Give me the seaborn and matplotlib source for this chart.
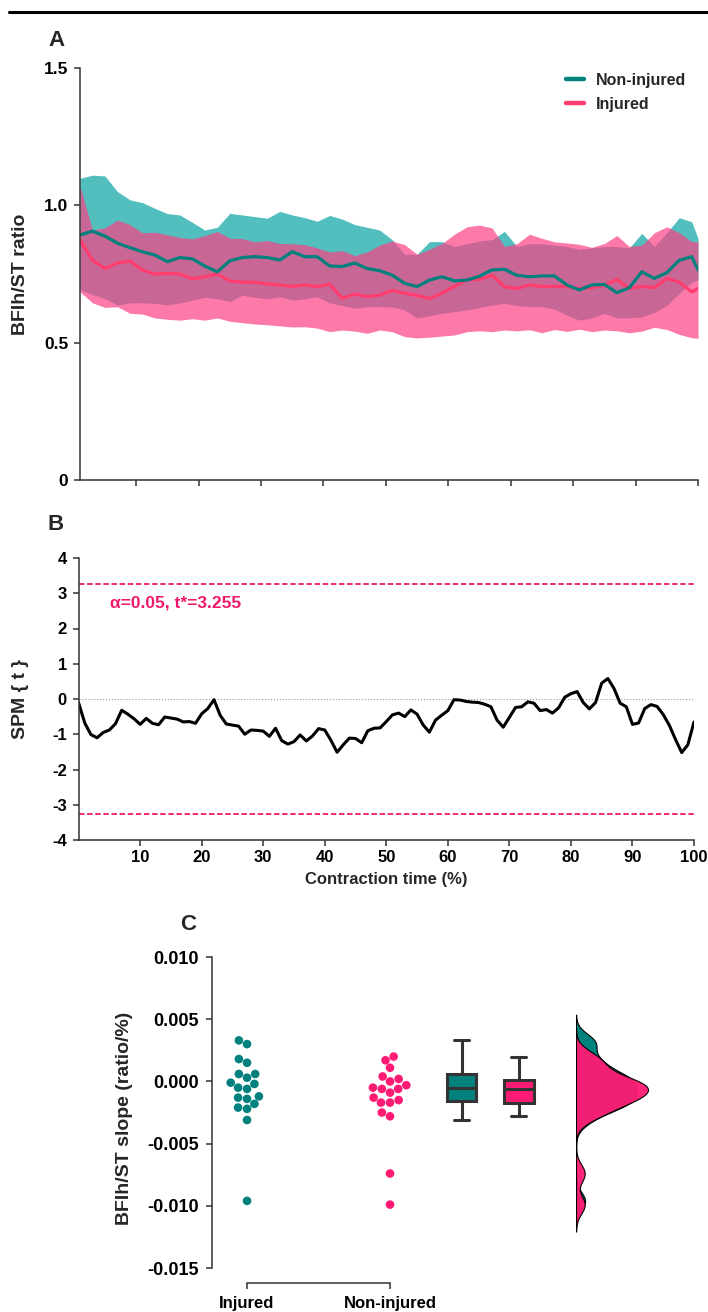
import numpy as np
import pandas as pd
import seaborn as sns
import matplotlib.pyplot as plt
from matplotlib.lines import Line2D

# ---- panel A: BFlh/ST ratio over contraction time (read every 2 %)
time_a = list(range(1, 100, 2)) + [100]
noninj_mean = [0.892, 0.906, 0.888, 0.862, 0.846, 0.831, 0.819, 0.795, 0.810, 0.805,
               0.779, 0.758, 0.798, 0.810, 0.813, 0.810, 0.801, 0.831, 0.813, 0.813,
               0.779, 0.777, 0.790, 0.770, 0.762, 0.746, 0.716, 0.704, 0.728, 0.740,
               0.725, 0.728, 0.742, 0.765, 0.767, 0.745, 0.740, 0.743, 0.743, 0.710,
               0.692, 0.710, 0.712, 0.682, 0.700, 0.758, 0.734, 0.755, 0.800, 0.813,
               0.765]
noninj_upper = [1.098, 1.110, 1.107, 1.050, 1.020, 1.010, 0.989, 0.970, 0.965, 0.938,
                0.910, 0.920, 0.971, 0.965, 0.959, 0.953, 0.978, 0.965, 0.955, 0.942,
                0.963, 0.950, 0.930, 0.920, 0.910, 0.875, 0.822, 0.822, 0.868, 0.868,
                0.850, 0.860, 0.870, 0.875, 0.905, 0.850, 0.860, 0.860, 0.855, 0.850,
                0.840, 0.845, 0.850, 0.850, 0.845, 0.898, 0.850, 0.900, 0.955, 0.940,
                0.880]
noninj_lower = [0.692, 0.675, 0.660, 0.637, 0.645, 0.645, 0.643, 0.637, 0.645, 0.655,
                0.665, 0.660, 0.650, 0.673, 0.665, 0.660, 0.667, 0.655, 0.660, 0.667,
                0.645, 0.635, 0.625, 0.631, 0.631, 0.630, 0.619, 0.590, 0.598, 0.607,
                0.613, 0.619, 0.628, 0.637, 0.643, 0.635, 0.631, 0.631, 0.622, 0.600,
                0.582, 0.590, 0.607, 0.590, 0.590, 0.594, 0.610, 0.635, 0.680, 0.720,
                0.728]
inj_mean = [0.874, 0.800, 0.770, 0.790, 0.797, 0.764, 0.750, 0.752, 0.750, 0.732,
            0.740, 0.750, 0.725, 0.720, 0.720, 0.714, 0.710, 0.705, 0.710, 0.704,
            0.713, 0.661, 0.677, 0.668, 0.673, 0.690, 0.680, 0.672, 0.660, 0.680,
            0.705, 0.730, 0.730, 0.745, 0.704, 0.697, 0.710, 0.704, 0.705, 0.704,
            0.697, 0.700, 0.710, 0.730, 0.697, 0.705, 0.700, 0.734, 0.720, 0.685,
            0.697]
inj_upper = [1.070, 0.910, 0.918, 0.946, 0.930, 0.900, 0.902, 0.893, 0.883, 0.878,
             0.890, 0.905, 0.880, 0.879, 0.867, 0.872, 0.861, 0.860, 0.857, 0.845,
             0.830, 0.835, 0.817, 0.830, 0.855, 0.870, 0.857, 0.822, 0.840, 0.861,
             0.895, 0.922, 0.928, 0.918, 0.850, 0.860, 0.895, 0.880, 0.867, 0.863,
             0.858, 0.847, 0.861, 0.890, 0.850, 0.855, 0.900, 0.922, 0.900, 0.868,
             0.867]
inj_lower = [0.685, 0.645, 0.628, 0.631, 0.607, 0.604, 0.590, 0.585, 0.582, 0.587,
             0.582, 0.590, 0.578, 0.573, 0.568, 0.565, 0.561, 0.557, 0.558, 0.553,
             0.540, 0.546, 0.542, 0.534, 0.546, 0.540, 0.522, 0.517, 0.520, 0.524,
             0.528, 0.540, 0.543, 0.540, 0.546, 0.543, 0.547, 0.536, 0.548, 0.541,
             0.549, 0.540, 0.546, 0.543, 0.536, 0.542, 0.556, 0.548, 0.530, 0.518,
             0.516]
ticks_a = [0, 0.5, 1.0, 1.5]
tick_labels_a = ["0", "0.5", "1.0", "1.5"]

# ---- panel B: SPM{t}
time_b = list(range(0, 101))
spm_t = [-0.11, -0.68, -1.01, -1.10, -0.95, -0.88, -0.70, -0.32, -0.43, -0.56,
         -0.72, -0.55, -0.69, -0.73, -0.51, -0.54, -0.57, -0.65, -0.64, -0.69,
         -0.42, -0.27, -0.02, -0.46, -0.71, -0.74, -0.77, -1.00, -0.88, -0.89,
         -0.91, -1.06, -0.83, -1.18, -1.28, -1.21, -1.02, -1.19, -1.05, -0.84,
         -0.88, -1.17, -1.51, -1.30, -1.11, -1.12, -1.24, -0.90, -0.83, -0.82,
         -0.64, -0.45, -0.40, -0.50, -0.31, -0.43, -0.74, -0.94, -0.60, -0.46,
         -0.33, -0.02, -0.03, -0.07, -0.09, -0.10, -0.15, -0.22, -0.60, -0.80,
         -0.52, -0.24, -0.22, -0.08, -0.12, -0.33, -0.30, -0.40, -0.25, 0.05,
         0.15, 0.21, -0.10, -0.28, -0.10, 0.45, 0.58, 0.30, -0.12, -0.22,
         -0.72, -0.68, -0.27, -0.16, -0.21, -0.44, -0.75, -1.15, -1.52, -1.30,
         -0.65]
t_crit = 3.255
ticks_b = [-4, -3, -2, -1, 0, 1, 2, 3, 4]
tick_labels_b = ["-4", "-3", "-2", "-1", "0", "1", "2", "3", "4"]
xticks_time = [10, 20, 30, 40, 50, 60, 70, 80, 90, 100]

# ---- panel C: slopes per group
injured_slope = [0.0033, 0.0030, 0.0018, 0.0015, 0.0006, 0.0006, 0.0003, -0.0001, -0.0002,
                 -0.0005, -0.0006, -0.0012, -0.0013, -0.0014, -0.0018, -0.0021, -0.0022,
                 -0.0031, -0.0096]
noninjured_slope = [0.0020, 0.0017, 0.0011, 0.0004, 0.0002, 0.0000, -0.0003, -0.0005, -0.0006,
                    -0.0006, -0.0009, -0.0013, -0.0015, -0.0017, -0.0017, -0.0025, -0.0028,
                    -0.0074, -0.0099]
groups = ["Injured", "Non-injured"]
ticks_c = [0.010, 0.005, 0.0, -0.005, -0.010, -0.015]
tick_labels_c = ["0.010", "0.005", "0.000", "-0.005", "-0.010", "-0.015"]

TEAL = "#00817D"
TEAL_BAND = "#52BEBD"
PINK = "#FF1B74"
PINK_LINE = "#FF3D6E"
PINK_BAND = "#FB4186"
CRIT = "#F0186A"
DARK = "#333333"
FONT = ["Liberation Sans", "DejaVu Sans"]

sns.set_style("ticks")
plt.rcParams["font.family"] = FONT
plt.rcParams["font.weight"] = "bold"
plt.rcParams["axes.labelweight"] = "bold"
plt.rcParams["axes.linewidth"] = 1.1
plt.rcParams["axes.edgecolor"] = DARK
plt.rcParams["xtick.color"] = DARK
plt.rcParams["ytick.color"] = DARK
plt.rcParams["xtick.labelcolor"] = "black"
plt.rcParams["ytick.labelcolor"] = "black"

W, H = 708, 1312
fig = plt.figure(figsize=(W / 100, H / 100), dpi=100)


def px_box(left, top, right, bottom):
    return [left / W, 1 - bottom / H, (right - left) / W, (bottom - top) / H]


def style_ticks(ax, size):
    for lab in ax.get_xticklabels() + ax.get_yticklabels():
        lab.set_fontsize(size)
        lab.set_fontweight("bold")


# separator line at the top of the page
fig.add_artist(Line2D([9 / W, 1], [1 - 12 / H, 1 - 12 / H], color="black", lw=2.2))

# ================= A =================
ax_a = fig.add_axes(px_box(80, 68, 698, 480))
ax_a.fill_between(time_a, noninj_lower, noninj_upper, color=TEAL_BAND, lw=0)
ax_a.fill_between(time_a, inj_lower, inj_upper, color=PINK_BAND, alpha=0.7, lw=0)
sns.lineplot(x=time_a, y=inj_mean, color=PINK_LINE, lw=2.3, label="Injured", ax=ax_a)
sns.lineplot(x=time_a, y=noninj_mean, color=TEAL, lw=2.3, label="Non-injured", ax=ax_a)
ax_a.set_xlim(1, 100)
ax_a.set_ylim(0, 1.5)
ax_a.set_xticks(xticks_time)
ax_a.set_xticklabels([])
ax_a.set_yticks(ticks_a)
ax_a.set_yticklabels(tick_labels_a)
ax_a.tick_params(length=4.5, width=1.1, pad=4)
style_ticks(ax_a, 12.5)
ax_a.set_ylabel("BFIh/ST ratio", fontsize=14)
ax_a.yaxis.set_label_coords(-0.083, 0.5)
ax_a.set_xlabel("")
sns.despine(ax=ax_a)
h, l = ax_a.get_legend_handles_labels()
leg = ax_a.legend([h[1], h[0]], [l[1], l[0]], loc="upper left",
                  bbox_to_anchor=(566 / W, 1 - 73 / H), bbox_transform=fig.transFigure,
                  frameon=False, borderpad=0, borderaxespad=0, handlelength=1.1,
                  handletextpad=0.8, labelspacing=0.55,
                  prop={"weight": "bold", "size": 11.5})
for line in leg.get_lines():
    line.set_linewidth(3.2)
fig.text(56 / W, 1 - 40 / H, "A", ha="center", va="center", fontsize=16, fontweight="bold")

# ================= B =================
ax_b = fig.add_axes(px_box(78.6, 558, 694, 840))
ax_b.axhline(0, color="#9a9a9a", lw=0.8, ls=":")
ax_b.axhline(t_crit, color=CRIT, lw=1.3, ls=(0, (3, 1.5)))
ax_b.axhline(-t_crit, color=CRIT, lw=1.3, ls=(0, (3, 1.5)))
sns.lineplot(x=time_b, y=spm_t, color="black", lw=2.2, ax=ax_b)
ax_b.text(5.1, 2.72, "\u03b1=0.05, t*=3.255", color=CRIT, ha="left", va="center",
          fontsize=12.5, fontweight="bold")
ax_b.set_xlim(0, 100)
ax_b.set_ylim(-4, 4)
ax_b.set_xticks(xticks_time)
ax_b.set_xticklabels([str(v) for v in xticks_time])
ax_b.set_yticks(ticks_b)
ax_b.set_yticklabels(tick_labels_b)
ax_b.tick_params(length=4.5, width=1.1, pad=4)
ax_b.tick_params(axis="x", pad=2.5)
style_ticks(ax_b, 12)
ax_b.set_ylabel("SPM { t }", fontsize=14)
ax_b.yaxis.set_label_coords(-0.081, 0.5)
ax_b.set_xlabel("Contraction time (%)", fontsize=12)
ax_b.xaxis.set_label_coords(0.5, -0.112)
sns.despine(ax=ax_b)
fig.text(56 / W, 1 - 525 / H, "B", ha="center", va="center", fontsize=16, fontweight="bold")

# ================= C =================
df_c = pd.DataFrame({
    "group": [groups[0]] * len(injured_slope) + [groups[1]] * len(noninjured_slope),
    "slope": injured_slope + noninjured_slope,
})
df_c["strip_x"] = df_c["group"].map({"Injured": 0, "Non-injured": 1})
df_c["box_x"] = df_c["group"].map({"Injured": 1.5, "Non-injured": 1.9})
palette = {"Injured": TEAL, "Non-injured": PINK}

ax_c = fig.add_axes(px_box(212, 953.3, 708, 1283))
sns.swarmplot(data=df_c, x="strip_x", y="slope", hue="group", palette=palette,
              native_scale=True, size=6.2, linewidth=0, legend=False, ax=ax_c)
sns.boxplot(data=df_c, x="box_x", y="slope", hue="group", palette=palette,
            native_scale=True, dodge=False, width=0.52, showfliers=False,
            saturation=1, linecolor=DARK, linewidth=2.2, legend=False, ax=ax_c)
ax_c.set_xlim(-0.245, 3.224)
ax_c.set_ylim(-0.0162, 0.0103)
ax_c.set_xticks([0, 1])
ax_c.set_xticklabels(groups)
ax_c.set_yticks(ticks_c)
ax_c.set_yticklabels(tick_labels_c)
ax_c.tick_params(length=4.5, width=1.1, pad=5)
style_ticks(ax_c, 13)
for lab in ax_c.get_xticklabels():
    lab.set_fontsize(12)
ax_c.set_xlabel("")
ax_c.set_ylabel("BFIh/ST slope (ratio/%)", fontsize=14)
ax_c.yaxis.set_label_coords(-0.159, 0.5)
sns.despine(ax=ax_c)
ax_c.spines["left"].set_bounds(-0.015, 0.010)
ax_c.spines["bottom"].set_bounds(0, 1)
fig.text(188 / W, 1 - 925 / H, "C", ha="center", va="center", fontsize=16, fontweight="bold")

# half-density (rain cloud) on the right
ax_k = fig.add_axes(px_box(576, 953.3, 708, 1283))
sns.kdeplot(y=injured_slope, fill=True, color=TEAL, alpha=1, bw_adjust=0.45,
            edgecolor="black", linewidth=0.8, ax=ax_k)
sns.kdeplot(y=noninjured_slope, fill=True, color=PINK, alpha=0.95, bw_adjust=0.45,
            edgecolor="black", linewidth=0.8, ax=ax_k)
peak = max(np.max(c.get_paths()[0].vertices[:, 0]) for c in ax_k.collections)
ax_k.set_xlim(0, peak * 132 / 72)
ax_k.set_ylim(-0.0162, 0.0103)
ax_k.axis("off")

fig.savefig("out.png", dpi=100)
